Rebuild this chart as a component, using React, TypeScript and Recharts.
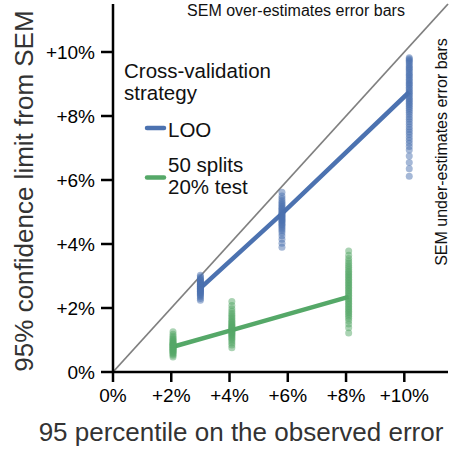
import {
  ComposedChart,
  Line,
  ReferenceLine,
  Scatter,
  XAxis,
  YAxis,
} from "recharts";

const BLUE = "#4C72B0";
const GREEN = "#55A868";
const FONT = "'Liberation Sans', Arial, sans-serif";

const axisTicks = [0, 2, 4, 6, 8, 10];

// x positions of the three scenarios for each strategy
const looX = [3.0, 5.8, 10.17];
const splitsX = [2.06, 4.08, 8.09];

// line through the central value of each scenario
const looMean = [2.62, 4.95, 8.75];
const splitsMean = [0.79, 1.31, 2.35];

// individual runs, per scenario
const looRuns1 = [3.02, 2.97, 2.93, 2.9, 2.87, 2.85, 2.82, 2.8, 2.78, 2.76, 2.74, 2.72, 2.7, 2.68, 2.66, 2.64, 2.62, 2.6, 2.58, 2.56, 2.54, 2.52, 2.5, 2.48, 2.45, 2.42, 2.39, 2.35, 2.3, 2.24];
const looRuns2 = [5.62, 5.5, 5.42, 5.35, 5.3, 5.25, 5.2, 5.16, 5.12, 5.08, 5.04, 5.0, 4.97, 4.94, 4.91, 4.88, 4.85, 4.82, 4.79, 4.76, 4.73, 4.7, 4.66, 4.62, 4.58, 4.53, 4.48, 4.42, 4.35, 4.26, 4.15, 4.02, 3.9];
const looRuns3 = [9.82, 9.78, 9.74, 9.7, 9.66, 9.6, 9.55, 9.5, 9.46, 9.41, 9.35, 9.3, 9.26, 9.2, 9.15, 9.1, 9.05, 9.0, 8.96, 8.9, 8.85, 8.8, 8.75, 8.7, 8.66, 8.6, 8.55, 8.5, 8.45, 8.4, 8.35, 8.3, 8.24, 8.18, 8.12, 8.05, 7.97, 7.9, 7.82, 7.74, 7.66, 7.58, 7.5, 7.42, 7.33, 7.24, 7.15, 7.05, 6.94, 6.75, 6.55, 6.35, 6.12];
const splitsRuns1 = [1.26, 1.18, 1.12, 1.07, 1.03, 1.0, 0.97, 0.94, 0.91, 0.89, 0.87, 0.85, 0.83, 0.81, 0.79, 0.77, 0.75, 0.73, 0.71, 0.69, 0.67, 0.65, 0.62, 0.59, 0.56, 0.52, 0.47];
const splitsRuns2 = [2.2, 2.08, 1.98, 1.9, 1.83, 1.77, 1.72, 1.67, 1.62, 1.58, 1.54, 1.5, 1.47, 1.44, 1.41, 1.38, 1.35, 1.32, 1.29, 1.26, 1.23, 1.2, 1.17, 1.14, 1.1, 1.06, 1.02, 0.97, 0.91, 0.84, 0.76];
const splitsRuns3 = [3.78, 3.65, 3.55, 3.47, 3.4, 3.33, 3.27, 3.21, 3.15, 3.1, 3.05, 3.0, 2.95, 2.9, 2.85, 2.8, 2.75, 2.7, 2.65, 2.6, 2.55, 2.5, 2.45, 2.4, 2.35, 2.3, 2.25, 2.2, 2.15, 2.1, 2.05, 2.0, 1.95, 1.9, 1.85, 1.8, 1.74, 1.68, 1.6, 1.5, 1.38, 1.22];

const toPoints = (xs: number[], runs: number[][]) =>
  runs.flatMap((ys, i) => ys.map((y) => ({ x: xs[i], y })));

const looPoints = toPoints(looX, [looRuns1, looRuns2, looRuns3]);
const splitsPoints = toPoints(splitsX, [splitsRuns1, splitsRuns2, splitsRuns3]);
const looLine = looX.map((x, i) => ({ x, y: looMean[i] }));
const splitsLine = splitsX.map((x, i) => ({ x, y: splitsMean[i] }));

const pct = (v: number) => (v === 0 ? "0%" : `+${v}%`);

const dot = (color: string) => (props: any) => (
  <circle cx={props.cx} cy={props.cy} r={3.5} fill={color} fillOpacity={0.5} />
);

export default function App() {
  return (
    <div style={{ position: "absolute", left: 0, top: 0, width: 452, height: 450, background: "#fff", fontFamily: FONT }}>
      <ComposedChart
        width={452}
        height={450}
        margin={{ top: 4, right: 4, left: 0, bottom: 0 }}
      >
        <XAxis
          type="number"
          dataKey="x"
          domain={[0, 11.5]}
          ticks={axisTicks}
          tickFormatter={pct}
          allowDataOverflow
          height={78}
          stroke="#000"
          strokeWidth={2.5}
          tickSize={10}
          tickMargin={7}
          tick={{ fill: "#000", fontSize: 19, fontFamily: FONT }}
        />
        <YAxis
          type="number"
          dataKey="y"
          domain={[0, 11.5]}
          ticks={axisTicks}
          tickFormatter={pct}
          allowDataOverflow
          width={113}
          stroke="#000"
          strokeWidth={2.5}
          tickSize={12}
          tickMargin={6}
          tick={{ fill: "#000", fontSize: 19, fontFamily: FONT }}
        />
        <ReferenceLine
          segment={[{ x: 0, y: 0 }, { x: 11.5, y: 11.5 }]}
          stroke="#808080"
          strokeWidth={1.8}
        />
        <Scatter data={looPoints} dataKey="y" shape={dot(BLUE)} isAnimationActive={false} />
        <Scatter data={splitsPoints} dataKey="y" shape={dot(GREEN)} isAnimationActive={false} />
        <Line data={looLine} dataKey="y" stroke={BLUE} strokeWidth={4.5} dot={false} isAnimationActive={false} />
        <Line data={splitsLine} dataKey="y" stroke={GREEN} strokeWidth={4.5} dot={false} isAnimationActive={false} />
      </ComposedChart>

      <svg
        width={452}
        height={450}
        style={{ position: "absolute", left: 0, top: 0, pointerEvents: "none" }}
        fontFamily={FONT}
      >
        <text x={296} y={16} fontSize={16} textAnchor="middle" fill="#111">
          SEM over-estimates error bars
        </text>
        <text
          x={0}
          y={0}
          fontSize={16}
          textAnchor="middle"
          fill="#111"
          transform="translate(447 152) rotate(-90)"
        >
          SEM under-estimates error bars
        </text>

        <text x={124} y={78} fontSize={20.5} fill="#111">Cross-validation</text>
        <text x={124} y={100} fontSize={20.5} fill="#111">strategy</text>
        <line x1={147} x2={164} y1={128} y2={128} stroke={BLUE} strokeWidth={4.5} strokeLinecap="round" />
        <text x={168} y={137} fontSize={20.5} fill="#111">LOO</text>
        <line x1={147} x2={164} y1={177.5} y2={177.5} stroke={GREEN} strokeWidth={4.5} strokeLinecap="round" />
        <text x={168} y={172} fontSize={20.5} fill="#111">50 splits</text>
        <text x={168} y={194} fontSize={20.5} fill="#111">20% test</text>

        <text x={241} y={441} fontSize={26} textAnchor="middle" fill="#333">
          95 percentile on the observed error
        </text>
        <text
          x={0}
          y={0}
          fontSize={26}
          textAnchor="middle"
          fill="#333"
          transform="translate(33 191) rotate(-90)"
        >
          95% confidence limit from SEM
        </text>
      </svg>
    </div>
  );
}
